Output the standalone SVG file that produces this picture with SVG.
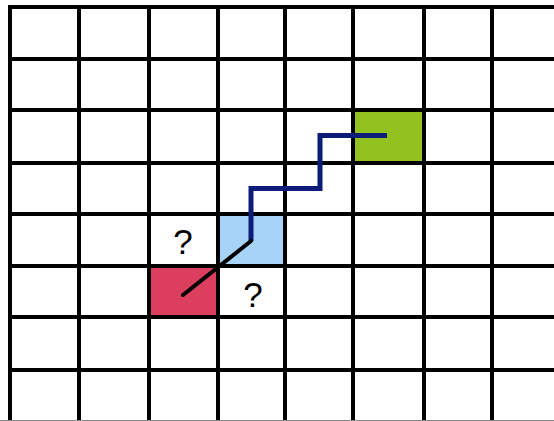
<svg xmlns="http://www.w3.org/2000/svg" width="554" height="421" viewBox="0 0 554 421">
<style>
.grid line{stroke:#000;stroke-width:4}
.q{font-family:"Liberation Sans",Arial,sans-serif;font-size:35px;fill:#000;text-anchor:middle}
.route{fill:none;stroke:#0c1c78;stroke-width:5;stroke-linejoin:miter;stroke-linecap:butt}
.diag{fill:none;stroke:#000;stroke-width:4;stroke-linecap:round}
</style>
<rect width="554" height="421" fill="#fff"/>
<g id="start"><rect x="149" y="266" width="69" height="51" fill="#dc3e5d"/></g>
<g id="step"><rect x="218" y="214" width="67" height="52" fill="#a6d3f7"/></g>
<g id="goal"><rect x="353" y="110" width="71" height="53" fill="#93c11f"/></g>
<g id="grid" class="grid">
<line x1="10" y1="5" x2="10" y2="421"/>
<line x1="79" y1="5" x2="79" y2="421"/>
<line x1="149" y1="5" x2="149" y2="421"/>
<line x1="218" y1="5" x2="218" y2="421"/>
<line x1="285" y1="5" x2="285" y2="421"/>
<line x1="353" y1="5" x2="353" y2="421"/>
<line x1="424" y1="5" x2="424" y2="421"/>
<line x1="492" y1="5" x2="492" y2="421"/>
<line x1="8" y1="7" x2="554" y2="7"/>
<line x1="8" y1="59" x2="554" y2="59"/>
<line x1="8" y1="110" x2="554" y2="110"/>
<line x1="8" y1="163" x2="554" y2="163"/>
<line x1="8" y1="214" x2="554" y2="214"/>
<line x1="8" y1="266" x2="554" y2="266"/>
<line x1="8" y1="317" x2="554" y2="317"/>
<line x1="8" y1="370" x2="554" y2="370"/>
</g>
<line x1="0" y1="420.5" x2="554" y2="420.5" stroke="#888" stroke-width="1"/>
<g id="connectors">
<path class="route" d="M387 135.5 H320 V188.5 H251 V241"/>
<path class="diag" d="M251 241 L183 295"/>
</g>
<g id="labels">
<text class="q" x="183" y="254">?</text>
<text class="q" x="253" y="307">?</text>
</g>
</svg>
